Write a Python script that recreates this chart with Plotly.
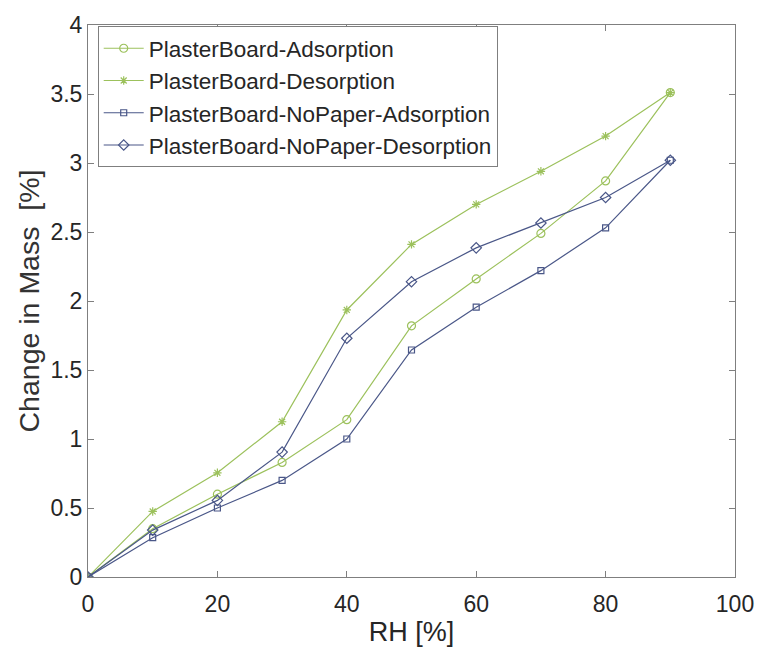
import plotly.graph_objects as go

rh = [0, 10, 20, 30, 40, 50, 60, 70, 80, 90]
pb_ads = [0.0, 0.35, 0.60, 0.83, 1.14, 1.82, 2.16, 2.49, 2.87, 3.51]
pb_des = [0.0, 0.475, 0.755, 1.125, 1.935, 2.41, 2.70, 2.94, 3.195, 3.51]
np_ads = [0.0, 0.285, 0.50, 0.70, 1.00, 1.645, 1.955, 2.22, 2.53, 3.02]
np_des = [0.0, 0.34, 0.555, 0.905, 1.73, 2.14, 2.385, 2.565, 2.75, 3.02]

names = ["PlasterBoard-Adsorption", "PlasterBoard-Desorption",
         "PlasterBoard-NoPaper-Adsorption", "PlasterBoard-NoPaper-Desorption"]
series = [pb_ads, pb_des, np_ads, np_des]

GREEN = "#9cc15c"
BLUE = "#4a5788"
colors = [GREEN, GREEN, BLUE, BLUE]
symbols = ["circle-open", "asterisk-open", "square-open", "diamond-open"]
sizes = [8, 7, 6, 8]
FONT = "Liberation Sans, Arial, sans-serif"

fig = go.Figure()
for name, ys, c, s, sz in zip(names, series, colors, symbols, sizes):
    fig.add_trace(go.Scatter(
        x=rh, y=ys, name=name, mode="lines+markers",
        line=dict(color=c, width=1.2),
        marker=dict(symbol=s, size=sz, color=c, line=dict(color=c, width=1.2)),
    ))

axis_common = dict(
    showline=True, linecolor="#7f7f7f", linewidth=1, mirror="ticks",
    ticks="inside", ticklen=6, tickcolor="#7f7f7f", showgrid=False, zeroline=False,
    tickfont=dict(family=FONT, size=23, color="#262626"),
)

fig.update_xaxes(range=[0, 100], dtick=20, tick0=0, ticklabelstandoff=6,
                 title=dict(text="RH [%]", font=dict(family=FONT, size=27, color="#262626"), standoff=6),
                 **axis_common)
fig.update_yaxes(range=[0, 4], dtick=0.5, tick0=0,
                 title=dict(text="Change in Mass  [%]", font=dict(family=FONT, size=28.5, color="#333333"), standoff=2),
                 **axis_common)

fig.update_layout(
    width=766, height=657,
    margin=dict(l=88, r=23, t=17, b=80),
    plot_bgcolor="white", paper_bgcolor="white",
    legend=dict(
        x=0.015, y=0.998, xanchor="left", yanchor="top",
        bgcolor="white", bordercolor="#7f7f7f", borderwidth=1,
        font=dict(family=FONT, size=22.5, color="#262626"),
        tracegroupgap=0, itemwidth=40,
    ),
)

fig.write_html("out.html")
